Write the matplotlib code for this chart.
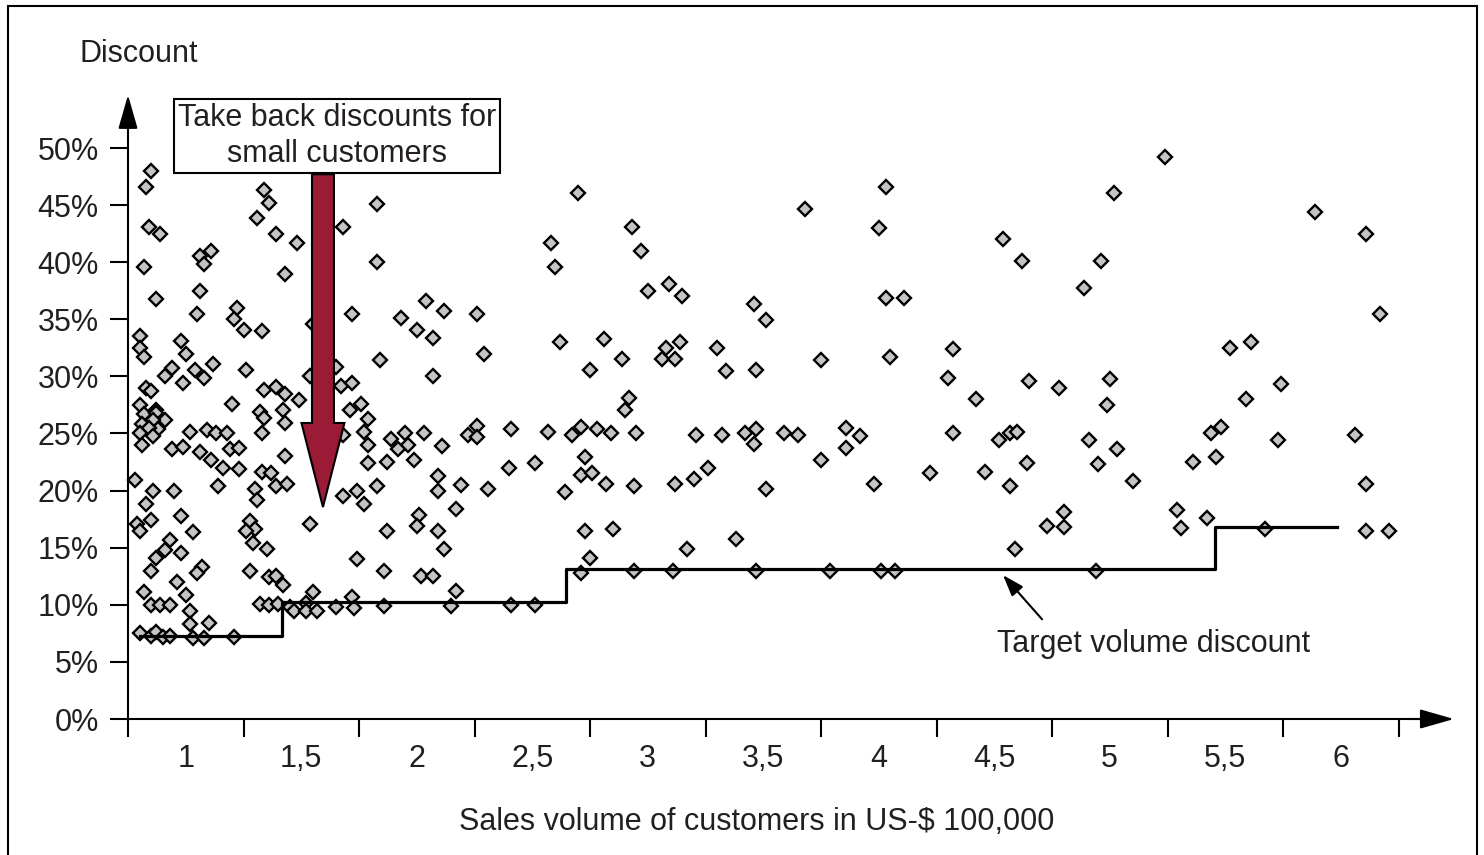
import matplotlib.pyplot as plt
from matplotlib.patches import FancyArrow, Rectangle

plt.rcParams['font.family'] = ['Liberation Sans', 'DejaVu Sans']
TXT = '#231f20'

# Kunden: Umsatz (US-$ 100.000) und Rabatt (%)
sales = [
    0.85, 0.83, 0.84, 0.89, 0.82, 0.87, 1.06, 1.11, 1.08, 1.06, 1.05, 1.34, 1.36, 1.31,
    1.39, 1.43, 1.22, 1.21, 1.25, 1.33, 0.80, 0.80, 0.82, 0.98, 1.00, 0.94, 0.91, 0.99,
    1.04, 1.08, 1.12, 1.26, 0.83, 0.85, 0.80, 0.87, 1.20, 1.34, 1.39, 1.43, 1.42, 1.32,
    0.82, 0.87, 0.91, 0.81, 0.86, 0.88, 0.80, 0.84, 0.86, 0.81, 1.02, 1.09, 1.13, 1.18,
    0.94, 0.99, 1.06, 1.11, 1.19, 1.23, 1.16, 1.23, 1.33, 1.34, 1.43, 1.43, 1.33, 1.37,
    1.39, 1.44, 0.78, 0.86, 0.95, 1.14, 1.30, 1.31, 0.83, 0.79, 0.80, 0.85, 0.98, 1.03,
    1.28, 1.30, 1.26, 1.29, 1.35, 0.93, 0.91, 0.87, 0.98, 0.85, 1.07, 1.05, 1.28, 1.36,
    1.39, 1.42, 0.96, 0.82, 1.00, 0.85, 0.89, 0.93, 1.02, 1.32, 1.36, 1.40, 1.45, 1.02,
    1.10, 0.80, 0.85, 0.87, 0.90, 0.93, 1.03, 1.08, 1.21,
    1.83, 1.68, 1.48, 1.83, 1.72, 2.04, 2.12, 1.93, 2.00, 2.07, 1.55, 1.84, 2.07, 1.54,
    1.65, 1.67, 1.72, 1.49, 1.76, 1.71, 1.79,
    1.77, 1.68, 1.79, 1.89, 1.95, 1.96, 1.92, 2.03, 1.99, 2.11, 2.22, 1.79, 1.87, 2.09,
    2.09, 2.19, 1.83, 1.74, 1.68, 1.77, 2.17, 2.01, 2.00, 2.09, 1.87, 1.54, 2.12, 1.74,
    1.86, 2.02, 2.07, 2.17, 1.55, 1.72, 1.52, 1.47, 1.52, 1.57, 1.65, 1.73, 1.86, 2.15,
    2.70, 2.93, 2.58, 2.97, 2.60, 3.09, 3.00, 3.15, 3.46, 3.51, 2.26, 2.29, 2.62, 2.81,
    2.89, 2.75, 3.08, 3.14, 3.06, 3.12, 3.30, 3.34, 3.47, 2.92, 2.90,
    2.26, 2.26, 2.41, 2.57, 2.67, 2.71, 2.78, 2.84, 2.95, 3.21, 3.32, 3.42, 3.47, 3.46,
    3.59, 2.73, 2.40, 2.51, 2.71, 2.76, 3.26, 3.20, 2.31, 2.64, 2.82, 2.94, 3.12, 3.51,
    2.73, 2.85, 3.38, 3.17, 2.75, 2.71, 2.94, 3.11, 3.47, 2.41, 2.51,
    4.03, 3.68, 4.00, 4.54, 4.62, 4.89, 4.03, 4.11, 3.75, 4.05, 4.32, 4.30, 4.65, 4.78,
    4.42, 3.65, 3.86, 3.92, 3.86, 3.75, 3.98, 4.32, 4.22, 4.52, 4.57, 4.60, 4.46, 4.64,
    4.57, 4.91, 4.80, 4.73, 4.80, 4.59, 3.79, 4.01, 4.07,
    5.24, 5.02, 5.89, 6.11, 4.96, 6.17, 5.52, 5.61, 5.00, 4.99, 5.74, 5.59,
    5.03, 4.95, 5.10, 5.44, 5.48, 5.46, 5.36, 5.73, 6.06, 6.11, 5.29, 5.42, 5.31, 5.67,
    6.11, 6.21, 4.94,
]
discount = [
    48.0, 46.6, 43.1, 42.5, 39.6, 36.8, 40.5, 41.0, 39.8, 37.5, 35.5, 46.3, 45.2, 43.9,
    42.5, 39.0, 36.0, 35.0, 34.1, 34.0, 33.5, 32.5, 31.7, 33.1, 32.0, 30.7, 30.0, 29.4,
    30.6, 29.9, 31.1, 30.6, 29.0, 28.7, 27.5, 27.1, 27.6, 28.8, 29.1, 28.5, 27.1, 26.9,
    26.7, 26.8, 26.2, 25.8, 26.2, 25.4, 25.0, 25.5, 24.8, 24.0, 25.1, 25.3, 25.0, 25.0,
    23.6, 23.8, 23.4, 22.7, 23.6, 23.7, 22.0, 21.9, 25.0, 26.4, 25.9, 23.0, 21.6, 21.5,
    20.4, 20.6, 20.9, 20.0, 20.0, 20.4, 20.1, 19.2, 18.8, 17.1, 16.5, 17.4, 17.8, 16.4,
    17.3, 16.6, 16.5, 15.4, 14.9, 15.7, 14.8, 14.1, 14.5, 13.0, 13.3, 12.8, 13.0, 12.4,
    12.5, 11.7, 12.0, 11.1, 10.9, 10.0, 10.0, 10.0, 9.5, 10.1, 10.0, 10.1, 9.8, 8.3,
    8.4, 7.5, 7.3, 7.6, 7.2, 7.3, 7.1, 7.1, 7.2,
    45.1, 43.1, 41.7, 40.0, 35.5, 36.6, 35.7, 35.1, 34.1, 33.4, 34.6, 31.4, 30.0, 30.0,
    30.8, 29.2, 29.4, 27.9, 27.6, 27.1, 26.3,
    25.1, 24.9, 24.0, 24.5, 25.0, 24.0, 23.6, 25.0, 22.7, 23.9, 24.9, 22.4, 22.5, 21.3,
    20.0, 20.5, 20.4, 20.0, 19.5, 18.8, 18.4, 17.9, 16.9, 16.5, 16.5, 17.1, 14.9, 14.0,
    13.0, 12.5, 12.5, 11.2, 11.1, 10.7, 10.2, 9.5, 9.5, 9.5, 9.8, 9.7, 9.9, 9.9,
    46.1, 43.1, 41.7, 41.0, 39.6, 38.1, 37.5, 37.0, 36.3, 34.9, 35.5, 32.0, 33.0, 33.3,
    31.5, 30.6, 32.5, 33.0, 31.5, 31.5, 32.5, 30.5, 30.6, 28.1, 27.1,
    25.7, 24.7, 25.4, 25.1, 24.9, 25.6, 25.4, 25.0, 25.0, 24.9, 24.9, 25.0, 25.4, 24.1,
    25.0, 22.9, 22.0, 22.4, 21.4, 21.5, 22.0, 21.0, 20.1, 19.9, 20.6, 20.4, 20.6, 20.1,
    16.5, 16.6, 15.8, 14.9, 14.1, 12.8, 13.0, 13.0, 13.0, 10.0, 10.0,
    46.6, 44.7, 43.0, 42.0, 40.1, 37.7, 36.9, 36.9, 31.4, 31.7, 32.4, 29.9, 29.6, 29.0,
    28.0, 24.9, 25.5, 24.8, 23.7, 22.7, 20.6, 25.0, 21.5, 24.4, 25.0, 25.1, 21.6, 22.4,
    20.4, 24.4, 18.1, 16.9, 16.8, 14.9, 13.0, 13.0, 13.0,
    49.2, 46.1, 44.4, 42.5, 40.1, 35.5, 32.5, 33.0, 29.8, 27.5, 29.3, 28.0,
    23.6, 22.3, 20.8, 25.0, 25.6, 22.9, 22.5, 24.4, 24.9, 20.6, 18.3, 17.6, 16.7, 16.6,
    16.5, 16.5, 13.0,
]

# Zielrabatt-Staffel
target_x = [0.80, 1.415, 2.646, 5.454, 5.985]
target_y = [7.27, 10.27, 13.16, 16.79, 16.79]

y_ticks = [0, 5, 10, 15, 20, 25, 30, 35, 40, 45, 50]
y_labels = ['0%', '5%', '10%', '15%', '20%', '25%', '30%', '35%', '40%', '45%', '50%']
x_tick_pos = [0.75, 1.25, 1.75, 2.25, 2.75, 3.25, 3.75, 4.25, 4.75, 5.25, 5.75, 6.25]
x_label_pos = [1, 1.5, 2, 2.5, 3, 3.5, 4, 4.5, 5, 5.5, 6]
x_labels = ['1', '1,5', '2', '2,5', '3', '3,5', '4', '4,5', '5', '5,5', '6']

W, H = 1484, 855
fig = plt.figure(figsize=(W / 100, H / 100), dpi=100)
ax = fig.add_axes([100 / W, 95 / H, 1360 / W, 680 / H])
ax.set_xlim(0.75 - 28 / 231, 0.75 + 1332 / 231)
ax.set_ylim(-41 / 11.42, 639 / 11.42)
ax.patch.set_alpha(0)

# Achsen
for s in ['top', 'right']:
    ax.spines[s].set_visible(False)
ax.spines['left'].set_position(('data', 0.75))
ax.spines['bottom'].set_position(('data', 0))
ax.spines['left'].set_bounds(0, 53)
ax.spines['bottom'].set_bounds(0.75, 6.4)
for s in ['left', 'bottom']:
    ax.spines[s].set_linewidth(1.5)
ax.annotate('', xy=(0.75, 54.65), xytext=(0.75, 52),
            arrowprops=dict(arrowstyle='-|>,head_length=21,head_width=6', mutation_scale=1,
                            color='black', lw=1.5, shrinkA=0, shrinkB=0))
ax.annotate('', xy=(6.49, 0), xytext=(6.3, 0),
            arrowprops=dict(arrowstyle='-|>,head_length=21,head_width=6', mutation_scale=1,
                            color='black', lw=1.5, shrinkA=0, shrinkB=0))

ax.set_yticks(y_ticks)
ax.set_yticklabels(y_labels)
ax.tick_params(axis='y', length=13, width=1.5, pad=8, labelsize=22, labelcolor=TXT)
ax.set_xticks(x_tick_pos)
ax.set_xticklabels([])
ax.set_xticks(x_label_pos, minor=True)
ax.set_xticklabels(x_labels, minor=True)
ax.tick_params(axis='x', which='major', length=13, width=1.5)
ax.tick_params(axis='x', which='minor', length=0, pad=18, labelsize=22, labelcolor=TXT)

# Streudiagramm
ax.plot(sales, discount, linestyle='none', marker='D', markersize=7.2,
        markerfacecolor='#c4c4c4', markeredgecolor='black', markeredgewidth=1.7, zorder=3)
ax.step(target_x, target_y, where='post', color='black', lw=2.3, zorder=4)

# Hinweis-Pfeil
ax.add_patch(FancyArrow(1.594, 47.7, 0, 18.56 - 47.7, width=0.095, head_width=0.186,
                        head_length=7.36, length_includes_head=True,
                        facecolor='#9b1b36', edgecolor='black', lw=1.5, zorder=5))
ax.text(1.655, 51.05, 'Take back discounts for\nsmall customers', ha='center', va='center',
        fontsize=22, color=TXT, linespacing=1.25, zorder=6,
        bbox=dict(boxstyle='square,pad=0.12', fc='white', ec='black', lw=1.5))

ax.annotate('', xy=(4.538, 12.6), xytext=(4.707, 8.73),
            arrowprops=dict(arrowstyle='-|>,head_length=13,head_width=4.5', mutation_scale=1,
                            color='black', lw=1.5, shrinkA=0, shrinkB=0))
ax.text(4.512, 6.57, 'Target volume discount', ha='left', va='center', fontsize=22, color=TXT)

fig.text(80 / W, 1 - 54 / H, 'Discount', ha='left', va='center', fontsize=22, color=TXT)
fig.text(757 / W, 1 - 822 / H, 'Sales volume of customers in US-$ 100,000',
         ha='center', va='center', fontsize=22, color=TXT)

fig.add_artist(Rectangle((8 / W, -5 / H), 1469 / W, 854 / H, transform=fig.transFigure,
                         fill=False, edgecolor='black', lw=1.5))

fig.savefig('out.png', dpi=100)
